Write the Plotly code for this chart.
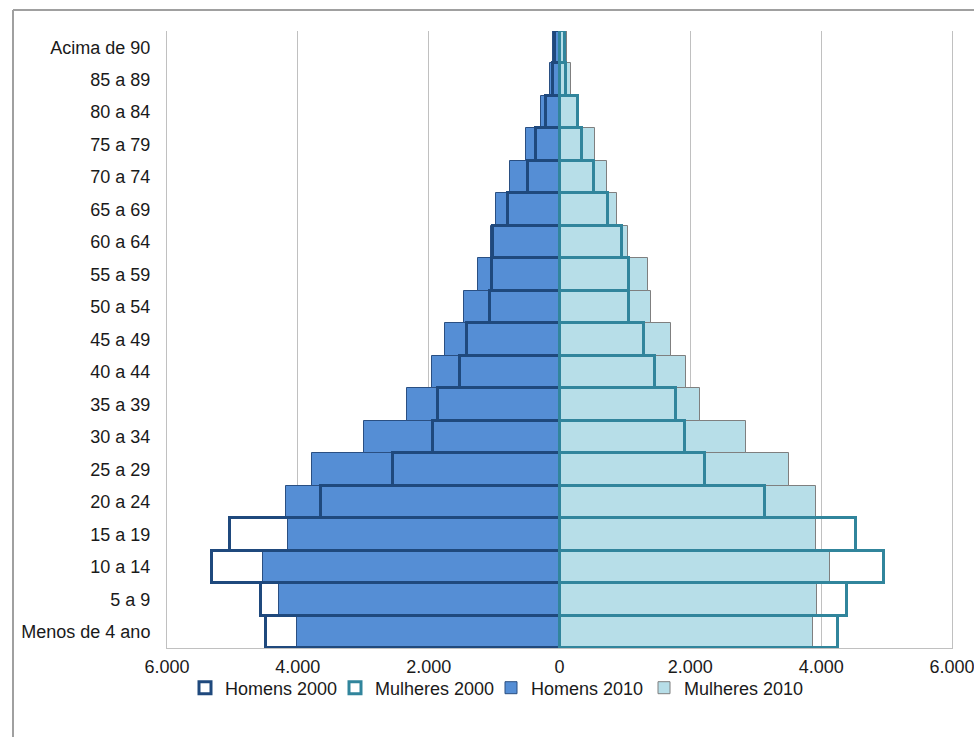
import plotly.graph_objects as go

# Age groups, youngest first (plotly puts the first category at the bottom)
faixas = ["Menos de 4 ano", "5 a 9", "10 a 14", "15 a 19", "20 a 24", "25 a 29",
          "30 a 34", "35 a 39", "40 a 44", "45 a 49", "50 a 54", "55 a 59",
          "60 a 64", "65 a 69", "70 a 74", "75 a 79", "80 a 84", "85 a 89",
          "Acima de 90"]

homens_2000 = [4485, 4561, 5315, 5035, 3644, 2548, 1936, 1850, 1518, 1416,
               1060, 1034, 1009, 790, 484, 361, 208, 100, 75]
homens_2010 = [4015, 4281, 4526, 4153, 4179, 3777, 2981, 2324, 1942, 1748,
               1457, 1248, 1049, 973, 764, 514, 280, 145, 95]
mulheres_2000 = [4257, 4394, 4954, 4532, 3135, 2217, 1922, 1784, 1463, 1295,
                 1061, 1061, 954, 740, 520, 342, 285, 100, 90]
mulheres_2010 = [3874, 3935, 4139, 3925, 3925, 3512, 2850, 2151, 1932, 1708,
                 1402, 1352, 1045, 877, 724, 546, 275, 170, 115]

tick_vals = [-6000, -4000, -2000, 0, 2000, 4000, 6000]
tick_text = ["6.000", "4.000", "2.000", "0", "2.000", "4.000", "6.000"]

FONT = "Liberation Sans, Arial, sans-serif"

fig = go.Figure()

# 2010 bars are filled and drawn first; 2000 bars are outlines on top
fig.add_trace(go.Bar(
    name="Homens 2010", y=faixas, x=[-v for v in homens_2010], orientation="h",
    marker=dict(color="#558ED5", line=dict(color="#2A4F82", width=1)),
    legendrank=3, legendwidth=108))
fig.add_trace(go.Bar(
    name="Mulheres 2010", y=faixas, x=mulheres_2010, orientation="h",
    marker=dict(color="#B7DEE8", line=dict(color="#7F7F7F", width=1)),
    legendrank=4, legendwidth=128))
fig.add_trace(go.Bar(
    name="Homens 2000", y=faixas, x=[-v for v in homens_2000], orientation="h",
    marker=dict(color="rgba(255,255,255,0)", line=dict(color="#1F497D", width=3)),
    legendrank=1, legendwidth=105))
fig.add_trace(go.Bar(
    name="Mulheres 2000", y=faixas, x=mulheres_2000, orientation="h",
    marker=dict(color="rgba(255,255,255,0)", line=dict(color="#31859C", width=3)),
    legendrank=2, legendwidth=111))

# outer chart frame (top and left edges)
L, R, T, B = 167, 22, 31, 89
W, H = 974, 737
pw, ph = W - L - R, H - T - B


def px_x(p):
    return (p - L) / pw


def px_y(p):
    return (H - B - p) / ph


fig.add_shape(type="line", xref="paper", yref="paper",
              x0=px_x(13), x1=px_x(985), y0=px_y(10), y1=px_y(10),
              line=dict(color="#A0A0A0", width=2))
fig.add_shape(type="line", xref="paper", yref="paper",
              x0=px_x(13), x1=px_x(13), y0=px_y(10), y1=px_y(745),
              line=dict(color="#A0A0A0", width=2))

fig.update_layout(
    width=W, height=H,
    margin=dict(l=L, r=R, t=T, b=B, autoexpand=False),
    barmode="overlay", bargap=0,
    paper_bgcolor="white", plot_bgcolor="white",
    font=dict(family=FONT, size=18, color="#1A1A1A"),
    showlegend=True,
    legend=dict(orientation="h", xanchor="left", yanchor="middle",
                x=px_x(185), y=px_y(688), entrywidthmode="pixels",
                itemwidth=30,
                font=dict(family=FONT, size=18, color="#1A1A1A"),
                bgcolor="rgba(0,0,0,0)"),
    xaxis=dict(range=[-6000, 6000], tickvals=tick_vals, ticktext=tick_text,
               showgrid=True, gridcolor="#C0C0C0", gridwidth=1,
               zeroline=False, showline=True, linecolor="#C0C0C0",
               linewidth=1, ticks="", ticklabelstandoff=2,
               ticklabeloverflow="allow", automargin=False,
               fixedrange=True),
    yaxis=dict(categoryorder="array", categoryarray=faixas,
               showgrid=False, zeroline=False, showline=True, mirror=True,
               linecolor="#C0C0C0", linewidth=1, ticks="",
               ticklabelstandoff=12, automargin=False, fixedrange=True),
)

fig.write_html("out.html")
